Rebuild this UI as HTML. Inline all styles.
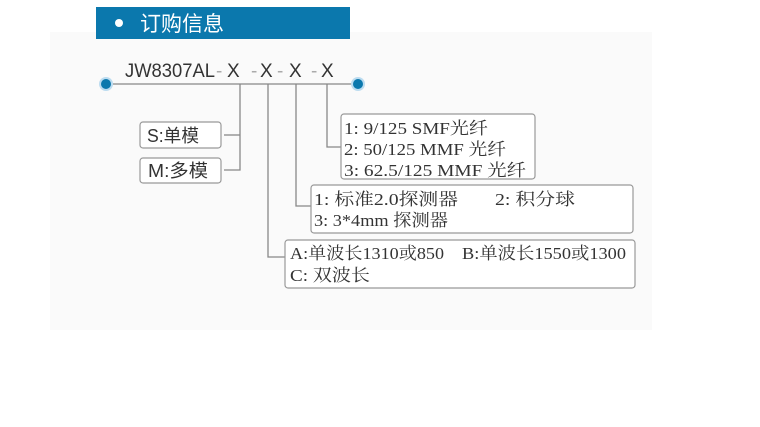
<!DOCTYPE html>
<html><head><meta charset="utf-8"><style>
html,body{margin:0;padding:0;background:#fff;width:760px;height:427px;overflow:hidden}
text{font-family:"Liberation Serif","Noto Serif CJK SC",serif;fill:#333}
.s{font-family:"Liberation Sans","Noto Sans CJK SC",sans-serif}
</style></head><body>
<svg width="760" height="427" viewBox="0 0 760 427" xmlns="http://www.w3.org/2000/svg">
<rect x="50" y="32" width="602" height="298" fill="#fafafa"/>
<rect x="96" y="7" width="254" height="32" fill="#0b78ad"/>
<circle cx="119" cy="23" r="4" fill="#fff"/>
<text x="140" y="31" class="s" font-size="21" style="fill:#fff">订购信息</text>
<text x="125" y="77" class="s" font-size="19" textLength="90" lengthAdjust="spacingAndGlyphs" style="fill:#333">JW8307AL</text>
<text x="216" y="77" class="s" font-size="19" style="fill:#aaa">-</text>
<text x="227" y="77" class="s" font-size="19" style="fill:#333">X</text>
<text x="251" y="77" class="s" font-size="19" style="fill:#aaa">-</text>
<text x="260" y="77" class="s" font-size="19" style="fill:#333">X</text>
<text x="277" y="77" class="s" font-size="19" style="fill:#aaa">-</text>
<text x="289" y="77" class="s" font-size="19" style="fill:#333">X</text>
<text x="311" y="77" class="s" font-size="19" style="fill:#aaa">-</text>
<text x="321" y="77" class="s" font-size="19" style="fill:#333">X</text>
<g stroke="#888" stroke-width="1.3" fill="none">
<line x1="106" y1="84" x2="357" y2="84"/>
<polyline points="240,84 240,170 224,170"/>
<line x1="224" y1="135" x2="240" y2="135"/>
<polyline points="268,84 268,257 285,257"/>
<polyline points="296,84 296,206 311,206"/>
<polyline points="327,84 327,147 341,147"/>
</g>
<circle cx="106" cy="84" r="7" fill="#bcdcf0"/><circle cx="106" cy="84" r="5" fill="#0b78ad"/>
<circle cx="358" cy="84" r="7" fill="#bcdcf0"/><circle cx="358" cy="84" r="5" fill="#0b78ad"/>
<g stroke="#999" stroke-width="1.2" fill="#fff">
<rect x="140" y="122" width="81" height="26" rx="3"/>
<rect x="140" y="158" width="81" height="25" rx="3"/>
<rect x="341" y="114" width="194" height="65" rx="3"/>
<rect x="311" y="185" width="322" height="48" rx="3"/>
<rect x="285" y="240" width="350" height="48" rx="3"/>
</g>
<text x="147" y="142" class="s" font-size="18" textLength="52" lengthAdjust="spacingAndGlyphs">S:单模</text>
<text x="148" y="177" class="s" font-size="18" textLength="60" lengthAdjust="spacingAndGlyphs">M:多模</text>
<g font-size="17" lengthAdjust="spacingAndGlyphs">
<text x="344" y="134" textLength="144" lengthAdjust="spacingAndGlyphs">1: 9/125 SMF光纤</text>
<text x="344" y="155" textLength="162" lengthAdjust="spacingAndGlyphs">2: 50/125 MMF 光纤</text>
<text x="344" y="176" textLength="182" lengthAdjust="spacingAndGlyphs">3: 62.5/125 MMF 光纤</text>
<text x="314" y="205" textLength="144" lengthAdjust="spacingAndGlyphs">1: 标准2.0探测器</text>
<text x="495" y="205" textLength="80" lengthAdjust="spacingAndGlyphs">2: 积分球</text>
<text x="314" y="226" textLength="134" lengthAdjust="spacingAndGlyphs">3: 3*4mm 探测器</text>
<text x="290" y="259" textLength="154" lengthAdjust="spacingAndGlyphs">A:单波长1310或850</text>
<text x="462" y="259" textLength="164" lengthAdjust="spacingAndGlyphs">B:单波长1550或1300</text>
<text x="290" y="281" textLength="80" lengthAdjust="spacingAndGlyphs">C: 双波长</text>
</g>
</svg>
</body></html>
